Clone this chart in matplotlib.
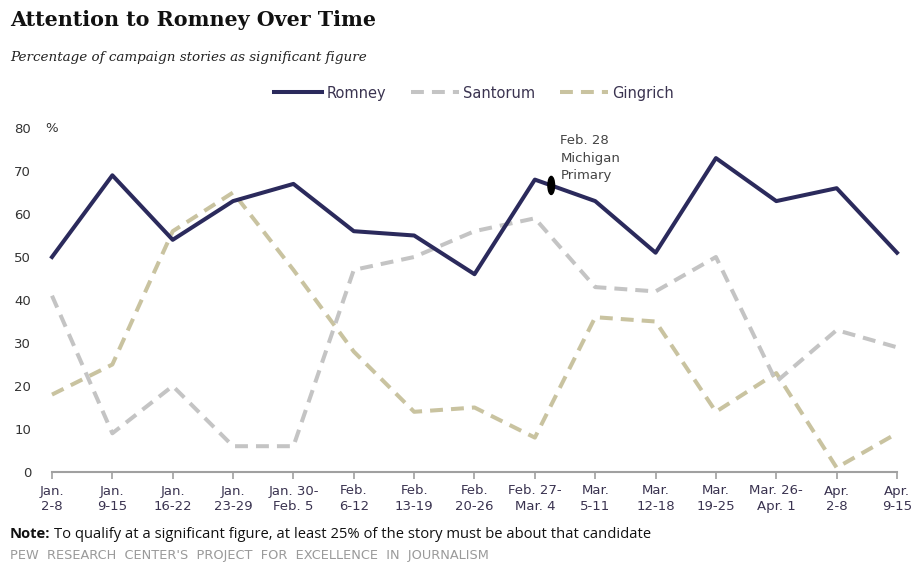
import numpy as np
import matplotlib.pyplot as plt
from matplotlib.lines import Line2D
from matplotlib.patches import Ellipse

# ── Data: share of campaign stories with each candidate as significant figure ──
weeks = ["Jan.\n2-8", "Jan.\n9-15", "Jan.\n16-22", "Jan.\n23-29", "Jan. 30-\nFeb. 5",
         "Feb.\n6-12", "Feb.\n13-19", "Feb.\n20-26", "Feb. 27-\nMar. 4", "Mar.\n5-11",
         "Mar.\n12-18", "Mar.\n19-25", "Mar. 26-\nApr. 1", "Apr.\n2-8", "Apr.\n9-15"]
romney = [50, 69, 54, 63, 67, 56, 55, 46, 68, 63, 51, 73, 63, 66, 51]
santorum = [41, 9, 20, 6, 6, 47, 50, 56, 59, 43, 42, 50, 21, 33, 29]
gingrich = [18, 25, 56, 65, 47, 28, 14, 15, 8, 36, 35, 14, 23, 1, 9]
yticks = [0, 10, 20, 30, 40, 50, 60, 70, 80]

# Michigan primary falls on the 2nd day of the Feb. 27 - Mar. 4 week
primary_pos = 8 + 1.9 / 7

NAVY = "#2b2a5c"
GREY = "#c4c4c4"
KHAKI = "#c9c3a0"
TXT = "#333333"

fig = plt.figure(figsize=(9.12, 5.68), dpi=100)
ax = fig.add_axes([52 / 912, 1 - 472 / 568, 845 / 912, 344 / 568])

x = np.arange(len(weeks))
lw = 2.9
ax.plot(x, gingrich, color=KHAKI, lw=lw, dashes=(3.2, 2.0), clip_on=False, zorder=2)
ax.plot(x, santorum, color=GREY, lw=lw, dashes=(3.2, 2.0), clip_on=False, zorder=3)
ax.plot(x, romney, color=NAVY, lw=lw, clip_on=False, zorder=4)

# marker for the primary, sitting on the Romney line
y_primary = np.interp(primary_pos, x, romney)
ax.add_patch(Ellipse((primary_pos, y_primary), width=0.11, height=4.2,
                     color="black", zorder=5, clip_on=False))
ax.text(primary_pos + 0.15, 78.5, "Feb. 28\nMichigan\nPrimary", fontsize=9.5,
        color="#444444", va="top", ha="left", linespacing=1.45)

ax.set_xlim(0, len(weeks) - 1)
ax.set_ylim(0, 80)
ax.set_xticks(x)
ax.set_xticklabels(weeks, fontsize=9.5, color="#3a3350", linespacing=1.25)
ax.set_yticks(yticks)
ax.set_yticklabels([str(v) for v in yticks], fontsize=9.5, color=TXT)
ax.text(-0.115, 80, "%", fontsize=9.5, color=TXT, va="center", ha="left",
        transform=ax.transData)
ax.tick_params(axis="y", length=0, pad=15)
ax.tick_params(axis="x", length=5, color="#a0a0a0", width=1.2, pad=4)

for side in ["top", "right", "left"]:
    ax.spines[side].set_visible(False)
ax.spines["bottom"].set_color("#a0a0a0")
ax.spines["bottom"].set_linewidth(1.5)

# legend across the top
handles = [
    Line2D([], [], color=NAVY, lw=lw),
    Line2D([], [], color=GREY, lw=lw, dashes=(3.2, 2.0)),
    Line2D([], [], color=KHAKI, lw=lw, dashes=(3.2, 2.0)),
]
fig.legend(handles, ["Romney", "Santorum", "Gingrich"], loc="center",
           bbox_to_anchor=(474 / 912, 1 - 93 / 568), ncol=3, frameon=False,
           fontsize=10.5, handlelength=3.3, handletextpad=0.3, columnspacing=1.7,
           labelcolor="#3a3350")

fig.text(10 / 912, 1 - 20 / 568, "Attention to Romney Over Time", fontsize=14.9,
         fontweight="bold", family="DejaVu Serif", va="center", ha="left", color="#111111")
fig.text(10 / 912, 1 - 57 / 568, "Percentage of campaign stories as significant figure",
         fontsize=9.7, style="italic", family="DejaVu Serif", va="center", ha="left",
         color="#222222")

# note: bold lead-in followed by regular text
note_y = 1 - 534 / 568
lead = fig.text(10 / 912, note_y, "Note:", fontsize=10.6, fontweight="bold", va="center",
                ha="left", color="#111111", family="Open Sans")
fig.canvas.draw()
bb = lead.get_window_extent()
fig.text((bb.x1 + 4) / 912, note_y, "To qualify at a significant figure, at least 25% "
         "of the story must be about that candidate", fontsize=10.6, va="center",
         ha="left", color="#111111", family="Open Sans")
fig.text(10 / 912, 1 - 556 / 568,
         "PEW  RESEARCH  CENTER'S  PROJECT  FOR  EXCELLENCE  IN  JOURNALISM",
         fontsize=9.3, va="center", ha="left", color="#9a9a9a")

fig.savefig("out.png", dpi=100, facecolor="white")
